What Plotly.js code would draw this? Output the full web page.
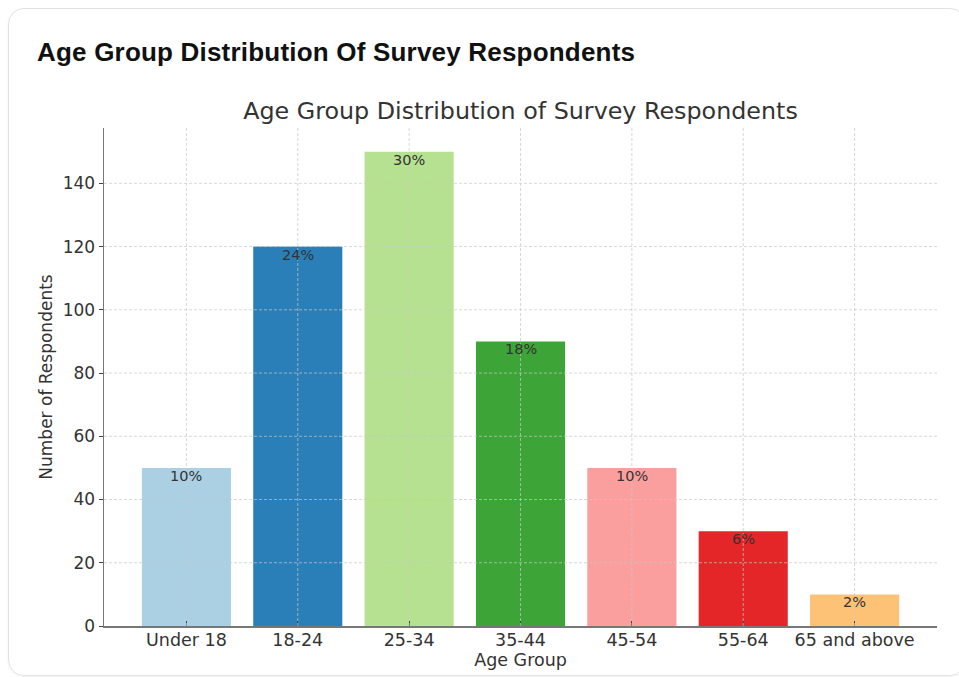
<!DOCTYPE html>
<html>
<head>
<meta charset="utf-8">
<script src="https://cdn.plot.ly/plotly-3.0.1.min.js"></script>
<style>
  html, body { margin: 0; padding: 0; background: #ffffff; width: 959px; height: 677px; overflow: hidden; }
  .card {
    position: absolute; left: 8px; top: 8px; width: 958px; height: 668px;
    border: 1px solid #e2e2e2; border-radius: 16px; box-sizing: border-box;
    box-shadow: 0 1px 3px rgba(0,0,0,0.05);
  }
  .card-title {
    position: absolute; left: 37px; top: 36px; line-height: 32px;
    font-family: "Liberation Sans", Arial, sans-serif; font-weight: bold;
    font-size: 26px; color: #111; letter-spacing: 0.2px;
  }
  #chart { position: absolute; left: 0; top: 0; width: 959px; height: 677px; }
</style>
</head>
<body>
<div class="card"></div>
<div class="card-title">Age Group Distribution Of Survey Respondents</div>
<div id="chart"></div>
<script>
// Survey respondents per age group
const ageGroups = ["Under 18", "18-24", "25-34", "35-44", "45-54", "55-64", "65 and above"];
const respondents = [50, 120, 150, 90, 50, 30, 10];
const shareLabels = ["10%", "24%", "30%", "18%", "10%", "6%", "2%"];
const barColors = ["#a6cee3", "#1f78b4", "#b2df8a", "#33a02c", "#fb9a99", "#e31a1c", "#fdbf6f"];
const yTicks = [0, 20, 40, 60, 80, 100, 120, 140];

const font = "DejaVu Sans, sans-serif";
const gridStyle = { color: "rgba(200,200,200,0.7)", width: 1, dash: "3px,2px" };

// Dashed grid drawn over the bars
const gridShapes = [];
yTicks.filter(v => v !== 0).forEach(v => {
  gridShapes.push({ type: "line", layer: "above", xref: "paper", yref: "y",
    x0: 0, x1: 1, y0: v, y1: v, line: gridStyle });
});
ageGroups.forEach(g => {
  gridShapes.push({ type: "line", layer: "above", xref: "x", yref: "paper",
    x0: g, x1: g, y0: 0, y1: 1, line: gridStyle });
});

// Share labels sit just inside the top of each bar
const shareNotes = ageGroups.map((g, i) => ({
  x: g, y: respondents[i], xref: "x", yref: "y",
  text: shareLabels[i], showarrow: false,
  yanchor: "middle", yshift: -8,
  font: { family: font, size: 14.5, color: "#333333" }
}));

const trace = {
  type: "bar",
  x: ageGroups,
  y: respondents,
  marker: { color: barColors, opacity: 0.95, line: { width: 0 } },
  width: 0.8,
  hoverinfo: "none"
};

const layout = {
  width: 959, height: 677,
  paper_bgcolor: "rgba(0,0,0,0)",
  plot_bgcolor: "rgba(0,0,0,0)",
  margin: { l: 104, r: 22, t: 128, b: 51 },
  showlegend: false,
  title: {
    text: "Age Group Distribution of Survey Respondents",
    font: { family: font, size: 23.8, color: "#333333" },
    xref: "paper", x: 0.5, xanchor: "center",
    yref: "container", y: 1 - 111 / 677, yanchor: "middle"
  },
  xaxis: {
    type: "category",
    range: [-0.74, 6.74],
    showgrid: false, zeroline: false,
    showline: true, linecolor: "#777777", linewidth: 1.5,
    ticks: "inside", ticklen: 5, tickcolor: "#444444", tickwidth: 1,
    ticklabelstandoff: -3,
    tickfont: { family: font, size: 17.5, color: "#333333" },
    title: { text: "Age Group", font: { family: font, size: 17.5, color: "#333333" }, standoff: 1 }
  },
  yaxis: {
    range: [0, 157.5],
    tickvals: yTicks,
    showgrid: false, zeroline: false,
    showline: true, linecolor: "#777777", linewidth: 1.5,
    ticks: "outside", ticklen: 4, tickcolor: "#444444", tickwidth: 1,
    tickfont: { family: font, size: 17, color: "#333333" },
    title: { text: "Number of Respondents", font: { family: font, size: 17, color: "#333333" }, standoff: 5 }
  },
  shapes: gridShapes,
  annotations: shareNotes
};

Plotly.newPlot("chart", [trace], layout, { staticPlot: true, displayModeBar: false });
</script>
</body>
</html>
